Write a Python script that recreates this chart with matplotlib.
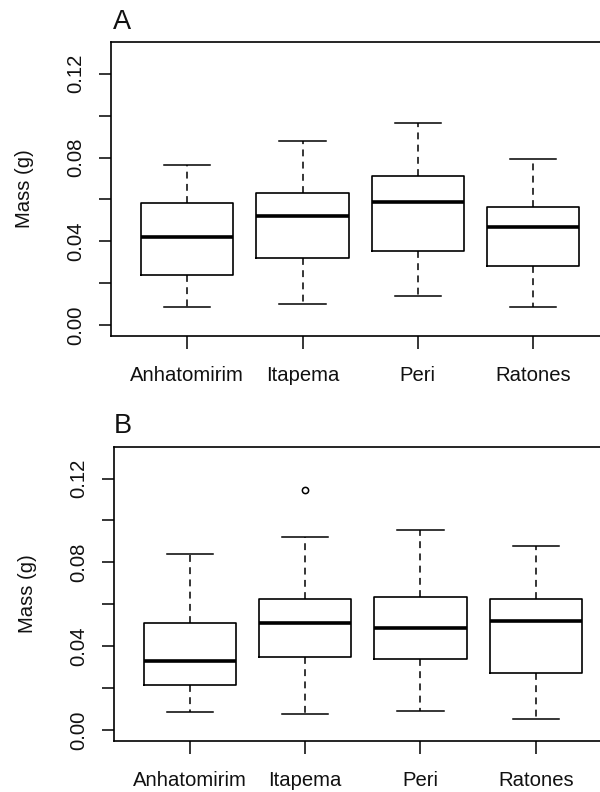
import matplotlib
matplotlib.use("Agg")
import matplotlib.pyplot as plt

plt.rcParams['font.family'] = ['Liberation Sans', 'DejaVu Sans']

sites = ["Anhatomirim", "Itapema", "Peri", "Ratones"]

# panel A: lower whisker, Q1, median, Q3, upper whisker
a_low = [0.0086, 0.0100, 0.0139, 0.0086]
a_q1 = [0.0238, 0.0322, 0.0352, 0.0284]
a_med = [0.0421, 0.0521, 0.0590, 0.0467]
a_q3 = [0.0583, 0.0630, 0.0712, 0.0566]
a_high = [0.0765, 0.0880, 0.0964, 0.0795]
a_out = [[], [], [], []]

# panel B
b_low = [0.0085, 0.0076, 0.0091, 0.0053]
b_q1 = [0.0213, 0.0351, 0.0338, 0.0274]
b_med = [0.0328, 0.0513, 0.0489, 0.0521]
b_q3 = [0.0513, 0.0626, 0.0634, 0.0626]
b_high = [0.0840, 0.0919, 0.0956, 0.0880]
b_out = [[], [0.1147], [], []]

yticks = [0.00, 0.04, 0.08, 0.12]
yminor = [0.02, 0.06, 0.10]


def make_stats(low, q1, med, q3, high, out):
    stats = []
    for i in range(len(sites)):
        stats.append(dict(whislo=low[i], q1=q1[i], med=med[i], q3=q3[i],
                          whishi=high[i], fliers=out[i], label=sites[i]))
    return stats


def draw_panel(ax, stats):
    ax.bxp(stats, positions=range(1, 5), widths=0.8, capwidths=0.4,
           boxprops=dict(color="black", linewidth=1.2),
           medianprops=dict(color="black", linewidth=2.6, solid_capstyle="butt"),
           whiskerprops=dict(color="black", linewidth=1.1, linestyle=(0, (4.5, 3.5))),
           capprops=dict(color="black", linewidth=1.1),
           flierprops=dict(marker="o", markersize=4.5, markerfacecolor="none",
                           markeredgecolor="black", markeredgewidth=1.1))
    ax.set_xlim(0.34, 4.66)
    ax.set_ylim(-0.0052, 0.1352)
    ax.set_yticks(yticks + yminor)
    ax.set_yticklabels(["%.2f" % v for v in yticks] + [""] * len(yminor),
                       rotation=90, va="center")
    ax.set_xticks(range(1, 5))
    ax.set_xticklabels(sites)
    ax.tick_params(axis="both", direction="out", length=9, width=1.1,
                   labelsize=14.6, color="black", labelcolor="#111111")
    ax.tick_params(axis="y", pad=9.5)
    ax.tick_params(axis="x", pad=12.5)
    for s in ax.spines.values():
        s.set_linewidth(1.2)
    ax.set_ylabel("Mass (g)", fontsize=14.6, color="#111111")
    ax.yaxis.set_label_coords(-0.154, 0.5)


fig = plt.figure(figsize=(6, 7.92), dpi=100)
ax1 = fig.add_axes([0.1853, 0.5758, 0.83, 0.3712])
ax2 = fig.add_axes([0.1897, 0.0644, 0.83, 0.3716])

draw_panel(ax1, make_stats(a_low, a_q1, a_med, a_q3, a_high, a_out))
draw_panel(ax2, make_stats(b_low, b_q1, b_med, b_q3, b_high, b_out))

fig.text(0.188, 1 - 29 / 792, "A", fontsize=19.5, va="baseline", color="#111111")
fig.text(0.190, 1 - 433 / 792, "B", fontsize=19.5, va="baseline", color="#111111")

fig.savefig("out.png", dpi=100)
